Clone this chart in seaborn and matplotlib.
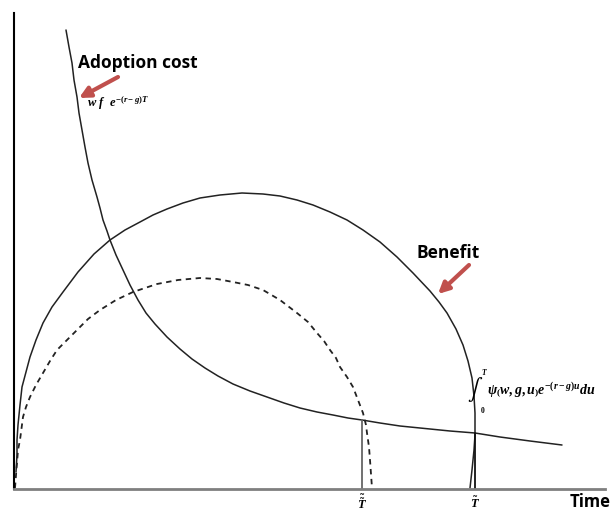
import matplotlib
matplotlib.use("Agg")
import matplotlib.pyplot as plt
import seaborn as sns
import pandas as pd

# ---- data (x = time, y = value) ----
cost_x = [52, 55, 58, 60, 63, 65, 68, 71, 74, 78, 83, 86, 89, 93, 96, 102, 109, 116, 124, 132, 141, 153,
          166, 178, 191, 204, 219, 236, 253, 270, 286, 303, 319, 334, 348, 366, 386, 416, 436, 461, 486, 516, 548]
cost_y = [459, 442, 426, 409, 392, 376, 359, 342, 326, 309, 292, 281, 269, 258, 249, 234, 219, 204, 189, 176, 165, 152,
          140, 130, 121, 113, 105, 98, 92, 86, 81, 77, 74, 71, 69, 66, 63, 60, 58, 56, 52, 48, 44]

benefit_x = [2, 3, 3, 4, 6, 8, 12, 16, 22, 29, 38, 49, 64, 80, 96, 111, 126, 139, 153, 169, 186, 206, 228, 249,
             266, 283, 299, 316, 333, 349, 366, 383, 399, 416, 425, 433, 442, 449, 454, 458, 460, 461, 461, 460, 458, 456]
benefit_y = [17, 34, 49, 64, 84, 102, 117, 132, 149, 166, 182, 197, 217, 235, 249, 259, 267, 274, 280, 286, 291, 294, 296, 295,
             293, 289, 284, 277, 269, 259, 247, 232, 216, 198, 187, 176, 160, 144, 128, 111, 93, 76, 54, 39, 19, 1]

benefit2_x = [1, 2, 3, 4, 6, 9, 12, 16, 22, 29, 36, 43, 53, 63, 74, 86, 102, 119, 131, 143, 164, 186, 203, 219, 234, 249,
              266, 283, 294, 303, 310, 316, 322, 326, 333, 339, 344, 349, 352, 353, 355, 356, 357, 358]
benefit2_y = [1, 14, 26, 39, 49, 72, 82, 92, 104, 116, 128, 139, 149, 159, 170, 179, 189, 197, 201, 205, 209, 211, 210, 207, 204, 199,
              189, 176, 167, 156, 148, 139, 131, 122, 112, 102, 89, 76, 64, 56, 42, 29, 15, 1]

t_marks = [348, 461]
t_mark_tops = [69, 56]
t_labels = [r"$\tilde{\tilde{T}}$", r"$\tilde{T}$"]

sns.set_style("white")
plt.rcParams["font.family"] = ["Open Sans", "DejaVu Sans"]
plt.rcParams["text.color"] = "black"
plt.rcParams["mathtext.fontset"] = "custom"
plt.rcParams["mathtext.it"] = "Liberation Serif:italic:bold"
plt.rcParams["mathtext.rm"] = "Liberation Serif:bold"
plt.rcParams["mathtext.bf"] = "Liberation Serif:bold"

fig = plt.figure(figsize=(6.13, 5.17), dpi=100)
ax = fig.add_axes([14 / 613, 28 / 517, 591 / 613, 476 / 517])

df_cost = pd.DataFrame({"t": cost_x, "v": cost_y})
df_b = pd.DataFrame({"t": benefit_x, "v": benefit_y})
df_b2 = pd.DataFrame({"t": benefit2_x, "v": benefit2_y})

sns.lineplot(data=df_cost, x="t", y="v", sort=False, estimator=None, color="#222222", lw=1.1, ax=ax)
sns.lineplot(data=df_b, x="t", y="v", sort=False, estimator=None, color="#222222", lw=1.1, ax=ax)
sns.lineplot(data=df_b2, x="t", y="v", sort=False, estimator=None, color="#222222", lw=1.3,
             linestyle=(0, (3, 2.5)), ax=ax)

for xm, top, col in zip(t_marks, t_mark_tops, ["#666666", "#111111"]):
    ax.plot([xm, xm], [0, top], color=col, lw=1.3)

ax.set_xlim(0, 591)
ax.set_ylim(0, 476)
ax.set_xticks([])
ax.set_yticks([])
ax.set_xlabel("")
ax.set_ylabel("")
for s in ["top", "right"]:
    ax.spines[s].set_visible(False)
ax.spines["left"].set_color("black")
ax.spines["left"].set_linewidth(1.5)
ax.spines["bottom"].set_color("#7f7f7f")
ax.spines["bottom"].set_linewidth(2)

# labels
ax.text(64, 426, "Adoption cost", fontsize=12.5, fontweight="bold", ha="left", va="center")
ax.text(403, 236, "Benefit", fontsize=12.5, fontweight="bold", ha="left", va="center")
ax.text(556, -13, "Time", fontsize=12, fontweight="bold", ha="left", va="center", clip_on=False)
for xm, lab in zip(t_marks, t_labels):
    ax.text(xm, -14, lab, fontsize=9, ha="center", va="center", clip_on=False)

ax.text(73, 386, r"$w\ f\ \ e^{-(r-g)T}$", fontsize=9, ha="left", va="center")
# integral label: big sign, limits, integrand
ax.text(461, 100, r"$\int$", fontsize=16, ha="center", va="center", math_fontfamily="stix")
ax.text(470, 117, r"$T$", fontsize=5.5, ha="center", va="center")
ax.text(469, 79, r"$0$", fontsize=5.5, ha="center", va="center")
ax.text(473, 99, r"$\psi\left(w,g,u\right)e^{-(r-g)u}du$", fontsize=10, ha="left",
        va="center", clip_on=False)

arrow_kw = dict(arrowstyle="-|>", color="#c0504d", lw=3, mutation_scale=16, shrinkA=0, shrinkB=0)
ax.annotate("", xy=(65, 391), xytext=(104, 412), arrowprops=arrow_kw)
ax.annotate("", xy=(424, 195), xytext=(455, 224), arrowprops=arrow_kw)

fig.savefig("out.png", dpi=100)
